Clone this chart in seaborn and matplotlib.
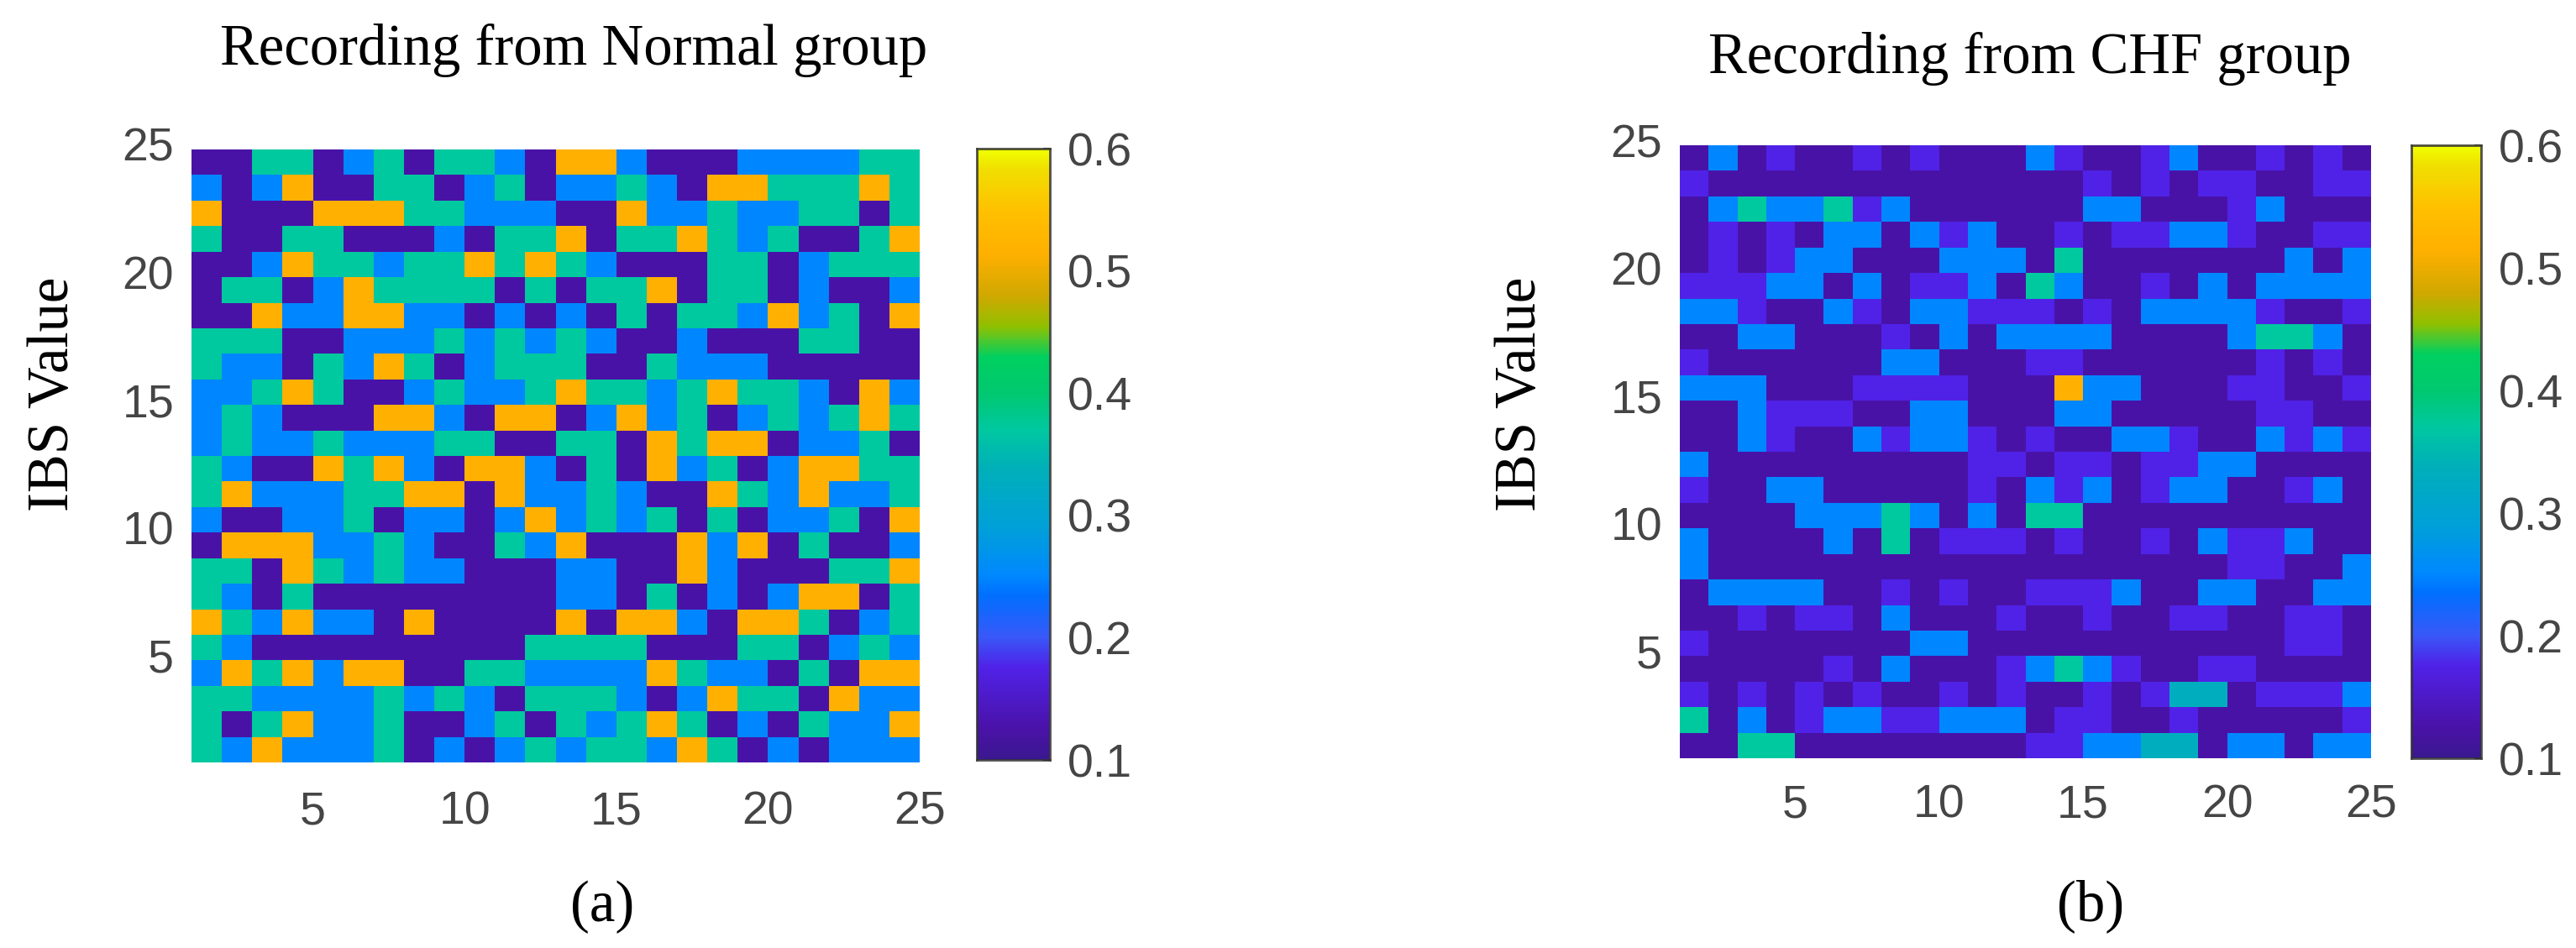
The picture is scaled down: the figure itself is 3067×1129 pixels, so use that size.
"""
plot.py
IBS value maps for one Normal and one CHF recording, side by side
"""

import numpy as np
import matplotlib
matplotlib.use("Agg")
import matplotlib.pyplot as plt
import seaborn as sns
from matplotlib.colors import LinearSegmentedColormap

# Cell levels, one letter per cell
LEVELS = {"D": 0.125, "L": 0.175, "B": 0.25, "T": 0.33, "G": 0.37, "O": 0.515}

# top row first (y = 25 down to y = 1)
NORMAL_ROWS = [
    "DDGGDBGDGGBDOOBDDDBBBBGG",
    "BDBODDGGDBGDBBGBDOOGGGOG",
    "ODDDOOOGGBBBDDOBBGBBGGDG",
    "GDDGGDDDBDGGODGGOGBGDDGO",
    "DDBOGGBGGOGOGBDDDGGDBGGG",
    "DGGDBOGGGGDGDGGODGGDBDDB",
    "DDOBBOOBBDBDBDGDGGBOBGDO",
    "GGGDDBBBGBGBGBDDBDDDGGDD",
    "GBBDGBOGDBGGGDDGBBBDDDDD",
    "BBGOGDDBGBBGOGGBGOGGBDOB",
    "BGBDDDOOBDOODBOBGDBGBGOG",
    "BGBBGBBBGGDDGGDOGOODBBGD",
    "GBDDOGOBDOOBDGDOBGDBOOGG",
    "GOBBBGGOODOBBGBDDOGBOBBG",
    "BDDBBGDBBDBOBGBGDGDBBGDO",
    "DOOOBBGBDDGBODDDOBODGDDB",
    "GGDOGBGBBDDDBBDDOBDDDGGO",
    "GBDGDDDDDDDDBBDGDBDBOODG",
    "OGBOBBDODDDDODOOBDOOGDBG",
    "GBDDDDDDDDDGGGGDDDGGDBGB",
    "BOGOBOODDGGBBBBOGBBDGDOO",
    "GGBBBBGBGBDGGGBDBOGGDOBB",
    "GDGOBBGDDBGDGBGOGDBDGBBO",
    "GBOBBBGDBDBGBGGBOGDBDBBB",
]

CHF_ROWS = [
    "DBDLDDLDLDDDBLDDLBDDLDLD",
    "LDDDDDDDDDDDDDLDLDLLDDLL",
    "DBGBBGLBDDDDDDBBDDDLBDDD",
    "DLDLDBBDBLBDDLDLLBBLDDLL",
    "DLDLBBDDDBBBDGDDDDDDDBDB",
    "LLLBBDBDLLBDGBDDLDBDBBBB",
    "BBLDDBLDBBLLLDLDBBBBLDDL",
    "DDBBDDDLDBDBBBBDDDDBGGBD",
    "LDDDDDDBBDDDLLDDDDDDLDLD",
    "BBBDDDLLLLDDDOBBDDDLLDDL",
    "DDBLLLDDBBDDDBBDDDDDLLDD",
    "DDBLDDBLBBLDLDDBBLDDBLBL",
    "BDDDDDDDDDLLDLLDLLBBDDDD",
    "LDDBBDDDDDLDBLBDLBBDDLBD",
    "DDDDBBBGBDBDGGDDDDDDDDDD",
    "BDDDDBDGDLLLDLDDLDBLLBDD",
    "BDDDDDDDDDDDDDDDDDDLLDDB",
    "DBBBBDDLDLDDLLLBDDBBDDBB",
    "DDLDLLDBDDDLDDLDDLLDDLLD",
    "LDDDDDDDBBDDDDDDDDDDDLLD",
    "DDDDDLDBDDDLBGBLDDLLDDDD",
    "LDLDLDLDDLDLDDLDLTTDLLLB",
    "GDBDLBBLLBBBDLLDDLDDDDDL",
    "DDGGDDDDDDDDLLBBTTDBBDBB",
]

TITLES = ["Recording from Normal group", "Recording from CHF group"]
PANEL_TAGS = ["(a)", "(b)"]
AXIS_TICKS = [5, 10, 15, 20, 25]
CBAR_TICKS = [0.1, 0.2, 0.3, 0.4, 0.5, 0.6]
Y_LABEL = "IBS Value"

W, H = 3067, 1129
TICK_GREY = "#454545"
SERIF_SIZE = 49.5
SANS_SIZE = 40

# bright parula-like ramp
cmap = LinearSegmentedColormap.from_list(
    "ibs",
    [
        (0.00, "#3a1890"),
        (0.05, "#4a12a8"),
        (0.15, "#5022e8"),
        (0.20, "#3858f8"),
        (0.27, "#0070ff"),
        (0.30, "#0088ff"),
        (0.38, "#00a0d8"),
        (0.48, "#00b0b8"),
        (0.54, "#00c8a0"),
        (0.60, "#00c870"),
        (0.66, "#00d060"),
        (0.71, "#90c000"),
        (0.76, "#d0a800"),
        (0.83, "#ffb000"),
        (0.90, "#ffc000"),
        (0.97, "#f0e000"),
        (1.00, "#f0ff00"),
    ],
)


def px_axes(fig, left, top, right, bottom):
    return fig.add_axes([left / W, 1 - bottom / H, (right - left) / W, (bottom - top) / H])


def to_matrix(rows):
    return np.array([[LEVELS[c] for c in row] for row in rows])


def draw_panel(fig, rows, box, cbar_box, title, tag, title_pos, label_x, tag_pos, x_pad):
    ax = px_axes(fig, *box)
    cax = px_axes(fig, *cbar_box)
    sns.heatmap(
        to_matrix(rows),
        vmin=0.1,
        vmax=0.6,
        cmap=cmap,
        ax=ax,
        cbar_ax=cax,
        linewidths=0,
        rasterized=True,
    )

    # cell edges sit on the integer axis values 1..25
    ax.set_xticks([v - 1 for v in AXIS_TICKS])
    ax.set_xticklabels(AXIS_TICKS, rotation=0)
    ax.set_yticks([25 - v for v in AXIS_TICKS])
    ax.set_yticklabels(AXIS_TICKS, rotation=0)
    ax.tick_params(axis="x", length=0, labelsize=SANS_SIZE, labelcolor=TICK_GREY, pad=x_pad)
    ax.tick_params(axis="y", length=0, labelsize=SANS_SIZE, labelcolor=TICK_GREY, pad=15)
    for lab in ax.get_xticklabels() + ax.get_yticklabels():
        lab.set_family("Liberation Sans")

    cax.set_yticks(CBAR_TICKS)
    cax.set_yticklabels([f"{v:.1f}" for v in CBAR_TICKS])
    cax.tick_params(length=6, width=1.5, color="#333333", direction="in",
                    labelsize=SANS_SIZE, labelcolor=TICK_GREY, pad=15)
    for lab in cax.get_yticklabels():
        lab.set_family("Liberation Sans")
    for spine in cax.spines.values():
        spine.set_visible(True)
        spine.set_linewidth(2)
        spine.set_color("#333333")
        spine.set_alpha(0.6)

    fig.text(title_pos[0] / W, 1 - title_pos[1] / H, title, family="Liberation Serif",
             fontsize=SERIF_SIZE, ha="center", va="baseline", color="black")
    fig.text(label_x / W, 1 - 469 / H, Y_LABEL, family="Liberation Serif",
             fontsize=SERIF_SIZE, rotation=90, rotation_mode="anchor",
             ha="center", va="baseline", color="black")
    fig.text(tag_pos[0] / W, 1 - tag_pos[1] / H, tag, family="Liberation Serif",
             fontsize=SERIF_SIZE, ha="center", va="baseline", color="black")


def main():
    sns.set_theme(style="white")
    fig = plt.figure(figsize=(W / 100, H / 100), dpi=100, facecolor="white")

    draw_panel(fig, NORMAL_ROWS, (228, 178, 1095, 908), (1163, 177, 1250, 905),
               TITLES[0], PANEL_TAGS[0], (683, 77), 81, (717, 1097), 24)
    draw_panel(fig, CHF_ROWS, (2000, 173, 2823, 903), (2871, 173, 2954, 903),
               TITLES[1], PANEL_TAGS[1], (2417, 87), 1828, (2489, 1096), 22)

    fig.savefig("out.png", dpi=100)
    plt.close(fig)


if __name__ == "__main__":
    main()
